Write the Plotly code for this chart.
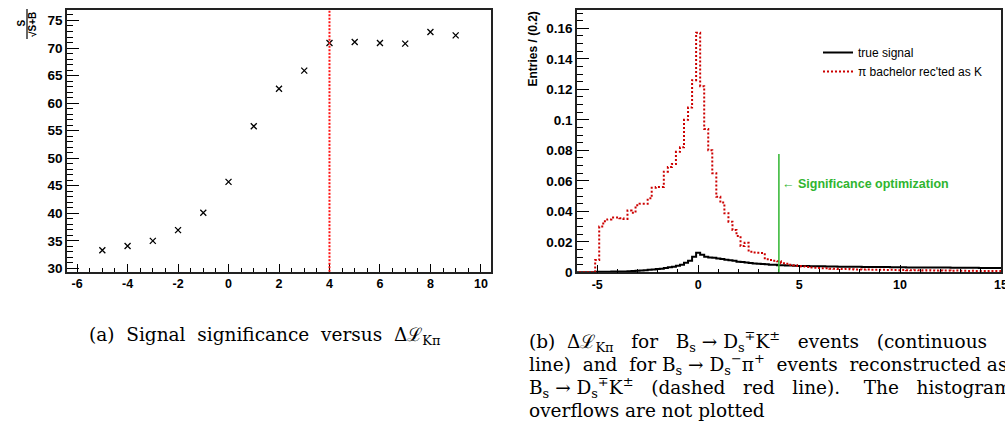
import plotly.graph_objects as go

# ---------------- data: left panel (signal significance vs cut) ----------------
cut_values = [-5, -4, -3, -2, -1, 0, 1, 2, 3, 4, 5, 6, 7, 8, 9]
significance = [33.3, 34.05, 35.0, 36.95, 40.1, 45.7, 55.8, 62.6, 65.9, 70.9,
                71.1, 70.9, 70.8, 72.9, 72.3]
chosen_cut = 4
left_xticks = [-6, -4, -2, 0, 2, 4, 6, 8, 10]
left_yticks = [30, 35, 40, 45, 50, 55, 60, 65, 70, 75]

# ---------------- data: right panel (DLL_Kpi histograms, bin width 0.2) ----------------
bin_first_center = -6.0
bin_width = 0.2
true_signal = [
    0, 0, 0, 0, 0, 0.0003, 0.0004, 0.0004, 0.0004, 0.0005,
    0.0005, 0.0006, 0.0006, 0.0007, 0.0008, 0.0010, 0.0012, 0.0014, 0.0017, 0.0019,
    0.0022, 0.0024, 0.0028, 0.0033, 0.0037, 0.0043, 0.0049, 0.0062, 0.0076, 0.0102,
    0.0129, 0.0115, 0.0102, 0.0097, 0.0095, 0.0091, 0.0087, 0.0083, 0.0079, 0.0075,
    0.0070, 0.0067, 0.0064, 0.0061, 0.0058, 0.0056, 0.0054, 0.0052, 0.0050, 0.0049,
    0.0047, 0.0046, 0.0045, 0.0044, 0.0043, 0.0042, 0.0041, 0.0041, 0.0040, 0.0040,
    0.0039, 0.0039, 0.0038, 0.0038, 0.0038, 0.0037, 0.0037, 0.0037, 0.0036, 0.0036,
    0.0036, 0.0035, 0.0035, 0.0035, 0.0034, 0.0034, 0.0034, 0.0034, 0.0033, 0.0033,
    0.0033, 0.0033, 0.0032, 0.0032, 0.0032, 0.0032, 0.0032, 0.0031, 0.0031, 0.0031,
    0.0031, 0.0031, 0.0031, 0.0030, 0.0030, 0.0030, 0.0030, 0.0030, 0.0030, 0.0030,
    0.0029, 0.0029, 0.0029, 0.0029, 0.0029, 0.0029,
]
pi_as_k = [
    0, 0, 0, 0, 0, 0.008, 0.030, 0.0335, 0.0347, 0.036,
    0.036, 0.0355, 0.035, 0.0405, 0.039, 0.044, 0.045, 0.045, 0.0485, 0.0555,
    0.056, 0.056, 0.066, 0.069, 0.071, 0.079, 0.082, 0.100, 0.108, 0.126,
    0.157, 0.122, 0.094, 0.080, 0.065, 0.0496, 0.0457, 0.0387, 0.0332, 0.0277,
    0.0238, 0.0172, 0.0194, 0.0135, 0.0130, 0.0128, 0.0126, 0.0085, 0.0080, 0.0075,
    0.0072, 0.0060, 0.0056, 0.0049, 0.0046, 0.0041, 0.0038, 0.0035, 0.0031, 0.0030,
    0.0028, 0.0026, 0.0027, 0.0024, 0.0023, 0.0022, 0.0021, 0.0022, 0.0020, 0.0019,
    0.0019, 0.0018, 0.0019, 0.0017, 0.0016, 0.0017, 0.0016, 0.0015, 0.0016, 0.0015,
    0.0014, 0.0015, 0.0014, 0.0013, 0.0014, 0.0013, 0.0012, 0.0013, 0.0012, 0.0011,
    0.0012, 0.0011, 0.0011, 0.0010, 0.0011, 0.0010, 0.0010, 0.0009, 0.0010, 0.0009,
    0.0009, 0.0009, 0.0008, 0.0009, 0.0008, 0.0008,
]
green_marker_height = 0.0776
legend_names = ["true signal", "\u03c0 bachelor rec'ted as K"]
right_xticks = [-5, 0, 5, 10, 15]
right_yticks = [0, 0.02, 0.04, 0.06, 0.08, 0.1, 0.12, 0.14, 0.16]

# ---------------- helpers ----------------
def step_xy(values):
    n = len(values)
    edges = [bin_first_center - bin_width / 2 + i * bin_width for i in range(n + 1)]
    return edges, list(values) + [values[-1]]

def bold_labels(vals):
    return ["<b>%s</b>" % ("%g" % v) for v in vals]

W, H = 1005, 432
def px_x(p):
    return p / W
def px_y(p):
    return 1 - p / H

TICKFONT_Y = dict(family="Liberation Sans", size=13.5, color="black")
TICKFONT_X = dict(family="Liberation Sans", size=12.5, color="black")
GREEN = "#2fb52f"

fig = go.Figure()

# left panel
fig.add_trace(go.Scatter(
    x=cut_values, y=significance, mode="markers", showlegend=False,
    marker=dict(symbol="x-thin", size=6, color="black", line=dict(width=1.3, color="black")),
    xaxis="x", yaxis="y"))

# right panel histograms
xs, ys = step_xy(true_signal)
fig.add_trace(go.Scatter(x=xs, y=ys, mode="lines", line=dict(shape="hv", color="black", width=2),
                         name=legend_names[0], xaxis="x2", yaxis="y2"))
xs, ys = step_xy(pi_as_k)
fig.add_trace(go.Scatter(x=xs, y=ys, mode="lines",
                         line=dict(shape="hv", color="#cc0000", width=2, dash="2px,2px"),
                         name=legend_names[1], xaxis="x2", yaxis="y2"))

# vertical cut lines
fig.add_shape(type="line", xref="x", yref="y domain", x0=chosen_cut, x1=chosen_cut, y0=0, y1=1,
              line=dict(color="#ff1010", width=2, dash="2px,1.5px"))
fig.add_shape(type="line", xref="x2", yref="y2", x0=chosen_cut, x1=chosen_cut, y0=0,
              y1=green_marker_height, line=dict(color=GREEN, width=1.5))

common_axis = dict(showline=True, linecolor="#222", linewidth=1.5, mirror=True,
                   showgrid=False, zeroline=False, ticks="inside", tickcolor="black",
                   ticklabeloverflow="allow", automargin=False)

fig.update_layout(
    width=W, height=H, margin=dict(l=0, r=0, t=0, b=0, autoexpand=False),
    paper_bgcolor="white", plot_bgcolor="white",
    xaxis=dict(domain=[px_x(67), px_x(491)], range=[-6.4, 10.4], anchor="y",
               tickvals=left_xticks, ticktext=bold_labels(left_xticks), ticklen=8, tickwidth=1.2,
               minor=dict(ticks="inside", dtick=0.5, tick0=0, ticklen=4, tickcolor="black"),
               tickfont=TICKFONT_X, **common_axis),
    yaxis=dict(domain=[px_y(271.7), px_y(10)], range=[29.4, 76.9], anchor="x",
               tickvals=left_yticks, ticktext=bold_labels(left_yticks), ticklen=12, tickwidth=1.2,
               minor=dict(ticks="inside", dtick=1, tick0=0, ticklen=6, tickcolor="black"),
               tickfont=TICKFONT_Y, **common_axis),
    xaxis2=dict(domain=[px_x(577), px_x(1001)], range=[-6, 15], anchor="y2",
                tickvals=right_xticks, ticktext=bold_labels(right_xticks), ticklen=8, tickwidth=1.2,
                minor=dict(ticks="inside", dtick=1, tick0=0, ticklen=4, tickcolor="black"),
                tickfont=TICKFONT_X, **common_axis),
    yaxis2=dict(domain=[px_y(272.3), px_y(10)], range=[0, 0.172], anchor="x2",
                tickvals=right_yticks, ticktext=bold_labels(right_yticks), ticklen=12, tickwidth=1.2,
                minor=dict(ticks="inside", dtick=0.005, tick0=0, ticklen=6, tickcolor="black"),
                tickfont=TICKFONT_Y, **common_axis),
    legend=dict(x=px_x(818), y=px_y(38), xanchor="left", yanchor="top",
                bgcolor="rgba(0,0,0,0)", borderwidth=0, tracegroupgap=0,
                font=dict(family="Liberation Sans", size=12, color="black")),
)

ann = []
# y title of left panel: S / sqrt(S+B) (rotated fraction)
ann.append(dict(text="<b>S</b>", x=px_x(21.5), y=px_y(23), xref="paper", yref="paper",
                xanchor="center", yanchor="middle",
                textangle=-90, showarrow=False, font=dict(family="Liberation Sans", size=10, color="black")))
ann.append(dict(text="<b>\u221aS+B</b>", x=px_x(32), y=px_y(24), xref="paper", yref="paper",
                xanchor="center", yanchor="middle",
                textangle=-90, showarrow=False, font=dict(family="Liberation Sans", size=10, color="black")))
# y title of right panel
ann.append(dict(text="<b>Entries / (0.2)</b>", x=px_x(532), y=px_y(10), xref="paper", yref="paper",
                textangle=-90, showarrow=False, xanchor="center", yanchor="top",
                font=dict(family="Liberation Sans", size=12, color="black")))
# green label
ann.append(dict(text="<b>\u2190 Significance optimization</b>", x=chosen_cut, y=0.0577,
                xref="x2", yref="y2", xanchor="left", showarrow=False, xshift=1,
                font=dict(family="Liberation Sans", size=12.5, color=GREEN)))

CAP = dict(family="DejaVu Serif", size=18.5, color="black")
S = "\u00a0"
ann.append(dict(text=f"(a){S*2}Signal{S*2}significance{S*2}versus{S*2}\u0394\u2112<sub>K\u03c0</sub>",
                x=px_x(265), y=px_y(336), xref="paper", yref="paper", showarrow=False,
                xanchor="center", yanchor="middle", font=CAP))
lines_b = [
    f"(b){S*2}\u0394\u2112<sub>K\u03c0</sub>{S*3}for{S*3}B<sub>s</sub>{S}\u2192{S}D<sub>s</sub><sup>\u2213</sup>K<sup>\u00b1</sup>{S*3}events{S*3}(continuous",
    f"line){S*2}and{S*2}for{S}B<sub>s</sub>{S}\u2192{S}D<sub>s</sub><sup>\u2212</sup>\u03c0<sup>+</sup>{S*2}events{S*2}reconstructed{S}as",
    f"B<sub>s</sub>{S}\u2192{S}D<sub>s</sub><sup>\u2213</sup>K<sup>\u00b1</sup>{S*3}(dashed{S*3}red{S*3}line).{S*4}The{S*3}histogram",
    "overflows are not plotted",
]
for i, t in enumerate(lines_b):
    ann.append(dict(text=t, x=px_x(527), y=px_y(341 + 23.3 * i), xref="paper", yref="paper",
                    showarrow=False, xanchor="left", yanchor="middle", font=CAP))
fig.update_layout(annotations=ann)

# fraction bar for the left y title
fig.add_shape(type="line", xref="paper", yref="paper", x0=px_x(27), x1=px_x(27),
              y0=px_y(9), y1=px_y(39), line=dict(color="black", width=1.2))

fig.write_html("out.html", config={"displayModeBar": False})
